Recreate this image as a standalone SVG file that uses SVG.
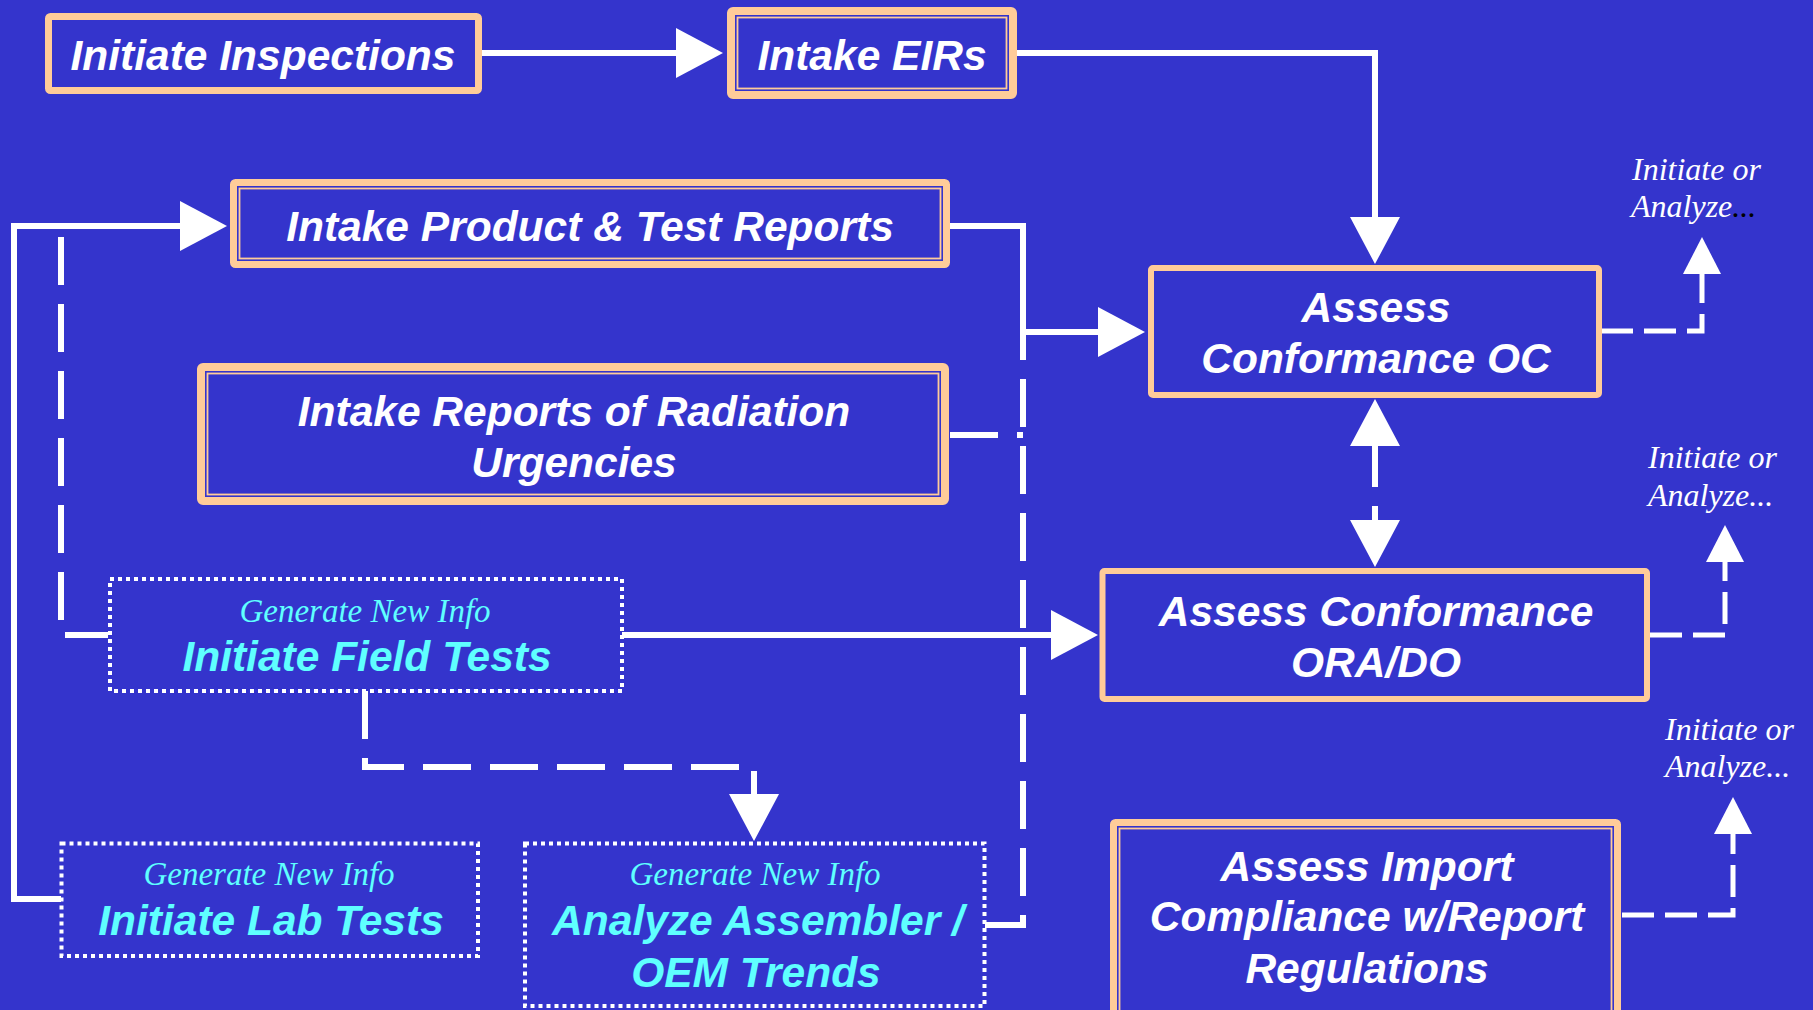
<svg xmlns="http://www.w3.org/2000/svg" width="1813" height="1010" viewBox="0 0 1813 1010">
<style>
.bg{fill:#3434CC}
.box{fill:#3434CC;stroke:#FFCC99}
.thin{fill:none;stroke:#FFCC99;stroke-width:1.8}
.dot{fill:none;stroke:#FFFFFF;stroke-width:4;stroke-dasharray:4 4}
.t{font-family:"Liberation Sans",Arial,sans-serif;font-weight:bold;font-style:italic;font-size:42.5px;fill:#FFFFFF;text-anchor:middle}
.c{fill:#5FFFFF}
.g{font-family:"Liberation Serif","Times New Roman",serif;font-style:italic;font-size:33px;fill:#5FFFFF;text-anchor:middle}
.n{font-family:"Liberation Serif","Times New Roman",serif;font-style:italic;font-size:32px;fill:#FFFFFF}
.ln{fill:none;stroke:#FFFFFF;stroke-width:6;stroke-linejoin:miter}
.dl{stroke-dasharray:48 19}
.sm{fill:none;stroke:#FFFFFF;stroke-width:5;stroke-dasharray:32 11}
</style>
<defs>
<marker id="ab" viewBox="0 0 47 50" refX="0" refY="25" markerWidth="47" markerHeight="50" markerUnits="userSpaceOnUse" orient="auto-start-reverse"><path d="M0,0 L47,25 L0,50 z" fill="#FFFFFF"/></marker>
<marker id="as" viewBox="0 0 37 38" refX="0" refY="19" markerWidth="37" markerHeight="38" markerUnits="userSpaceOnUse" orient="auto"><path d="M0,0 L37,19 L0,38 z" fill="#FFFFFF"/></marker>
</defs>
<rect class="bg" x="0" y="0" width="1813" height="1010"/>

<g id="connectors">
<path class="ln" d="M482,53 H676" marker-end="url(#ab)"/>
<path class="ln" d="M1017,53 H1375 V217" marker-end="url(#ab)"/>
<path class="ln" d="M61,899 H14 V226 H180" marker-end="url(#ab)"/>
<path class="ln" d="M950,226 H1023 V332 H1098" marker-end="url(#ab)"/>
<path class="ln dl" d="M61,237 V635 H108"/>
<path class="ln dl" d="M985,925 H1023 V334"/>
<path class="ln dl" d="M950,435 H1023"/>
<path class="ln" style="stroke-dasharray:41 19" d="M1375,446 V520" marker-start="url(#ab)" marker-end="url(#ab)"/>
<path class="ln" d="M622,635 H1051" marker-end="url(#ab)"/>
<path class="ln dl" d="M365,691 V767 H754 V794" marker-end="url(#ab)"/>
<path class="sm" d="M1601,331 H1702 V274" marker-end="url(#as)"/>
<path class="sm" d="M1650,635 H1725 V562" marker-end="url(#as)"/>
<path class="sm" d="M1622,915 H1733 V834" marker-end="url(#as)"/>
</g>

<g id="initiate-inspections">
<rect class="box" x="48.5" y="16.5" width="430" height="74" rx="2" stroke-width="7"/>
<text class="t" x="263" y="70">Initiate Inspections</text>
</g>

<g id="intake-eirs">
<rect class="box" x="731" y="11" width="282" height="84" rx="2" stroke-width="8"/>
<rect class="thin" x="737.5" y="17.5" width="269" height="71"/>
<text class="t" x="872" y="70">Intake EIRs</text>
</g>

<g id="intake-product">
<rect class="box" x="233.5" y="182.5" width="713" height="82" rx="2" stroke-width="7"/>
<rect class="thin" x="239.5" y="188.5" width="701" height="70"/>
<text class="t" x="590" y="241">Intake Product &amp; Test Reports</text>
</g>

<g id="intake-radiation">
<rect class="box" x="201" y="367" width="744" height="134" rx="2" stroke-width="8"/>
<rect class="thin" x="207.5" y="373.5" width="731" height="121"/>
<text class="t" x="574" y="426">Intake Reports of Radiation</text>
<text class="t" x="574" y="477">Urgencies</text>
</g>

<g id="assess-oc">
<rect class="box" x="1151" y="268" width="448" height="127" rx="2" stroke-width="6"/>
<text class="t" x="1376" y="322">Assess</text>
<text class="t" x="1376" y="373">Conformance OC</text>
</g>

<g id="assess-ora">
<rect class="box" x="1102.5" y="571" width="544.5" height="128" rx="2" stroke-width="6"/>
<text class="t" x="1376" y="626">Assess Conformance</text>
<text class="t" x="1376" y="677">ORA/DO</text>
</g>

<g id="assess-import">
<rect class="box" x="1113.5" y="822.5" width="504" height="200" rx="2" stroke-width="7"/>
<rect class="thin" x="1119.5" y="828.5" width="492" height="190"/>
<text class="t" x="1367" y="881">Assess Import</text>
<text class="t" x="1367" y="931">Compliance w/Report</text>
<text class="t" x="1367" y="983">Regulations</text>
</g>

<g id="field-tests">
<rect class="dot" x="110" y="579" width="512" height="112"/>
<text class="g" x="365" y="622">Generate New Info</text>
<text class="t c" x="367" y="671">Initiate Field Tests</text>
</g>

<g id="lab-tests">
<rect class="dot" x="61.5" y="843.5" width="416.5" height="112.5"/>
<text class="g" x="269" y="885">Generate New Info</text>
<text class="t c" x="271" y="935">Initiate Lab Tests</text>
</g>

<g id="analyze-trends">
<rect class="dot" x="525" y="843.5" width="459.5" height="162.5"/>
<text class="g" x="755" y="885">Generate New Info</text>
<text class="t c" x="758" y="935">Analyze Assembler /</text>
<text class="t c" x="756" y="987">OEM Trends</text>
</g>

<g id="label-oc">
<text class="n" x="1632" y="180">Initiate or</text>
<text class="n" x="1631" y="217">Analyze<tspan fill="#000000">...</tspan></text>
</g>
<g id="label-ora">
<text class="n" x="1648" y="468">Initiate or</text>
<text class="n" x="1648" y="506">Analyze...</text>
</g>
<g id="label-import">
<text class="n" x="1665" y="740">Initiate or</text>
<text class="n" x="1665" y="777">Analyze...</text>
</g>
</svg>
